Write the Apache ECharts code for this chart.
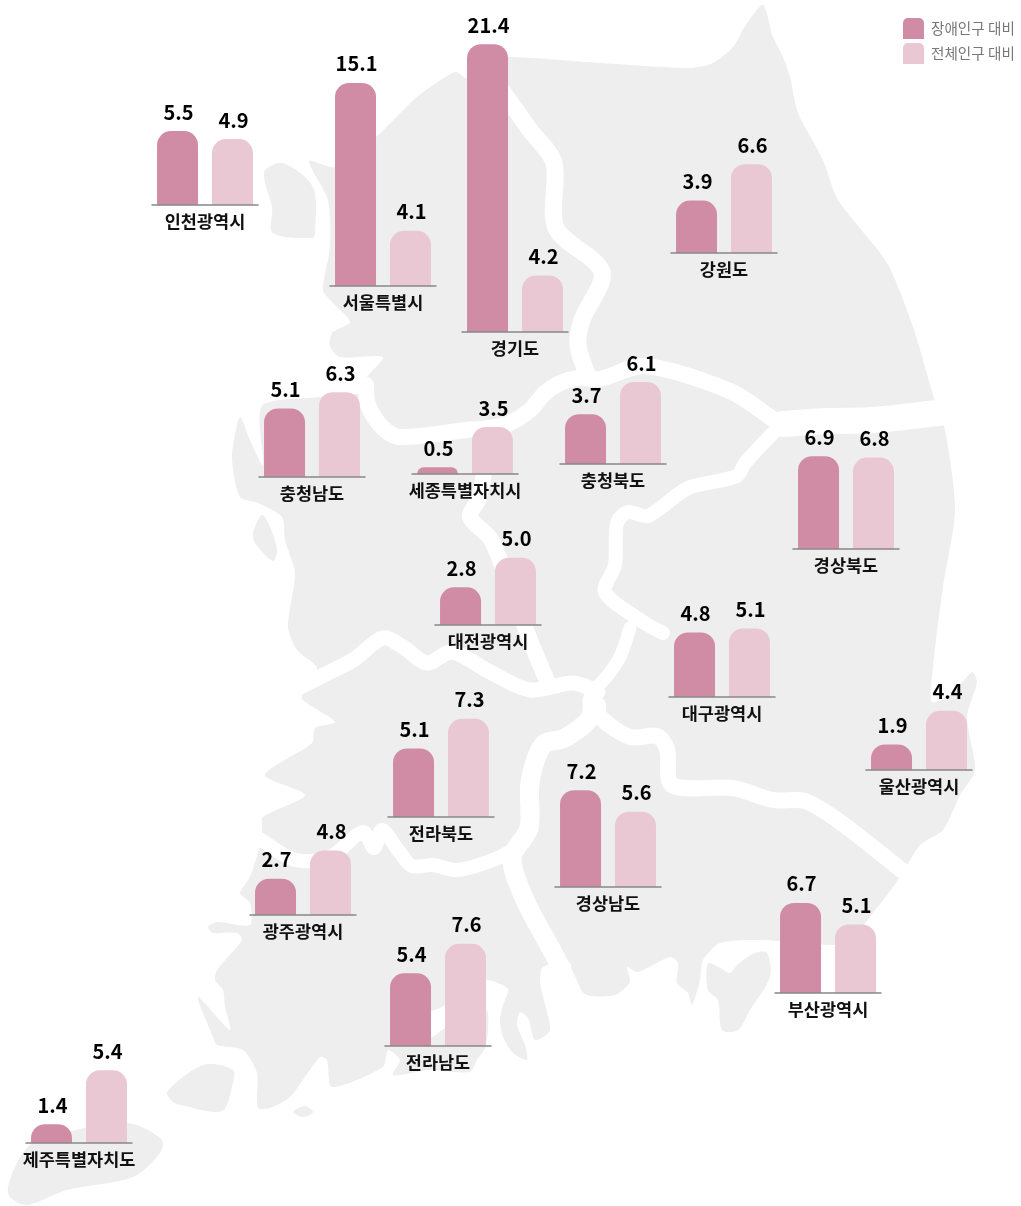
<!DOCTYPE html>
<html><head><meta charset="utf-8">
<style>html,body{margin:0;padding:0;background:#fff}#c{width:1021px;height:1206px}</style>
<script src="https://cdn.jsdelivr.net/npm/echarts@6/dist/echarts.min.js"></script>
</head><body><div id="c"></div>
<script>
// ---------- data ----------
const regions = ['인천광역시','서울특별시','경기도','강원도','충청남도','세종특별자치시','충청북도','경상북도','대전광역시','대구광역시','울산광역시','전라북도','경상남도','광주광역시','전라남도','부산광역시','제주특별자치도'];
const disabledShare = [5.5,15.1,21.4,3.9,5.1,0.5,3.7,6.9,2.8,4.8,1.9,5.1,7.2,2.7,5.4,6.7,1.4];
const totalShare    = [4.9,4.1,4.2,6.6,6.3,3.5,6.1,6.8,5.0,5.1,4.4,7.3,5.6,4.8,7.6,5.1,5.4];
const seriesNames = ['장애인구 대비','전체인구 대비'];

// ---------- layout: left edge and baseline of each small chart ----------
const anchorLeft = [152,330,462,671,259,412,560,793,435,669,866,388,555,250,385,775,26];
const anchorBase = [205,286,332,253,477,474,464,549,625,697,770,817,887,915,1046,993,1143];
const GRID_W = 106, PX_PER_UNIT = 13.45;
const C1 = '#D08CA4', C2 = '#E9C8D4', LAND = '#EEEEEE';

// ---------- decorative background map ----------
const mainland = [[455,72],[467,78],[490,62],[508,57],[600,63],[690,68],[713,63],[733,47],[747,23],[763,5],[773,37],[783,57],[790,77],[798,113],[823,160],[838,200],[887,263],[913,327],[934,398],[945,430],[955,510],[943,587],[933,667],[932,702],[953,693],[972,672],[977,682],[967,717],[975,770],[960,795],[943,830],[920,845],[898,880],[873,913],[850,940],[833,945],[760,940],[720,943],[703,960],[700,980],[692,1005],[688,993],[677,983],[678,963],[670,957],[638,972],[627,967],[630,982],[615,995],[587,995],[572,980],[570,963],[543,967],[540,983],[550,1030],[535,1040],[528,1018],[520,1012],[517,1025],[525,1045],[527,1060],[513,1053],[503,1037],[500,1020],[503,1005],[508,989],[486,980],[470,990],[440,1008],[431,1012],[431,1037],[445,1028],[486,1010],[486,1046],[477,1060],[470,1072],[430,1070],[393,1075],[400,1060],[388,1050],[383,1067],[332,1087],[327,1060],[320,1057],[290,1097],[270,1108],[258,1108],[257,1073],[243,1050],[217,1045],[213,1037],[198,997],[230,1030],[225,1007],[223,990],[215,980],[217,970],[242,940],[237,933],[213,933],[208,927],[217,922],[250,925],[250,903],[240,893],[250,877],[260,845],[262,830],[263,817],[305,795],[265,775],[312,743],[315,728],[335,722],[303,700],[302,690],[317,668],[297,650],[288,627],[295,573],[285,540],[282,517],[258,503],[240,497],[232,457],[240,417],[250,440],[263,465],[262,406],[320,397],[360,393],[367,377],[383,357],[340,357],[330,347],[332,333],[350,322],[333,303],[323,290],[330,247],[328,200],[309,161],[335,167],[376,137],[417,97]];
const islands = [
  [[265,170],[283,163],[313,187],[315,233],[312,238],[273,233],[272,207],[265,182]],
  [[262,515],[253,533],[255,543],[273,561],[277,550],[270,527]],
  [[708,963],[720,968],[730,973],[737,965],[755,953],[767,953],[770,977],[750,1010],[738,1030],[722,1030],[718,1000],[708,990]],
  [[167,1092],[203,1065],[233,1070],[232,1087],[222,1111],[180,1105],[173,1102]],
  [[293,1112],[305,1106],[313,1112],[303,1117]],
  [[8,1187],[17,1163],[33,1143],[100,1125],[133,1124],[162,1140],[160,1153],[133,1177],[67,1190],[27,1205],[10,1197]]
];
const rivers = [
  {w:17,p:[[500,88],[530,130],[554,163],[556,228],[602,272],[582,320],[578,345],[588,376]]},
  {w:16,p:[[366,385],[368,405],[383,428],[400,437],[467,430],[490,428],[510,423],[530,410],[545,393],[560,383],[578,378],[600,379],[645,366],[730,391],[770,417],[785,428]]},
  {w:26,p:[[783,424],[827,421],[873,420],[945,412],[990,405]]},
  {w:14,p:[[778,428],[745,463],[737,476],[688,488],[648,516],[628,512],[617,523],[615,565],[605,592],[640,620],[663,633]]},
  {w:13,p:[[630,628],[620,657],[608,675],[596,688]]},
  {w:15,p:[[285,695],[320,677],[353,660],[383,638],[403,647],[427,663],[452,652],[490,672],[530,690],[573,683],[598,692]]},
  {w:16,p:[[490,430],[484,474],[478,500],[470,517],[490,538],[500,560],[515,600],[532,645],[548,683]]},
  {w:19,p:[[592,700],[590,718],[565,738],[543,745],[530,783],[529,828],[512,858],[525,900],[557,960],[575,1000]]},
  {w:14,p:[[245,830],[258,838],[295,860],[330,857],[363,832],[374,848],[382,830],[398,850],[412,866],[433,865],[458,870],[498,858],[520,845]]},
  {w:16,p:[[598,705],[600,717],[630,737],[657,736],[667,749],[672,785],[733,788],[773,800],[805,801],[840,822],[905,873],[930,895]]}
];

// ---------- option ----------
const chart = echarts.init(document.getElementById('c'), null, {renderer:'canvas'});
const grid=[], xAxis=[], yAxis=[], series=[];
const labelStyle = {show:true, position:'top', distance:7, offset:[1,-2], color:'#000', fontSize:20, fontWeight:700, fontFamily:'"Noto Sans CJK KR"', formatter:p=>p.value.toFixed(1)};
regions.forEach((name,i)=>{
  const top = Math.ceil(Math.max(disabledShare[i], totalShare[i]));
  grid.push({left:anchorLeft[i], width:GRID_W, top:anchorBase[i]-top*PX_PER_UNIT, height:top*PX_PER_UNIT, containLabel:false});
  xAxis.push({type:'category', gridIndex:i, data:[name], z:5,
    axisLine:{lineStyle:{color:'#888',width:1.5}}, axisTick:{show:false},
    axisLabel:{margin:8,interval:0,color:'#111',fontSize:17.5,fontWeight:700,fontFamily:'"Noto Sans CJK KR"'}});
  yAxis.push({type:'value', gridIndex:i, min:0, max:top, show:false});
  series.push({name:seriesNames[0], type:'bar', xAxisIndex:i, yAxisIndex:i, data:[disabledShare[i]], barWidth:41, barGap:'34%', itemStyle:{color:C1,borderRadius:[14,14,0,0]}, label:labelStyle, animation:false});
  series.push({name:seriesNames[1], type:'bar', xAxisIndex:i, yAxisIndex:i, data:[totalShare[i]], barWidth:41, barGap:'34%', itemStyle:{color:C2,borderRadius:[14,14,0,0]}, label:labelStyle, animation:false});
});
const elements = [];
elements.push({type:'polygon', z:0, silent:true, shape:{points:mainland, smooth:0.25}, style:{fill:LAND}});
islands.forEach(p=>elements.push({type:'polygon', z:0, silent:true, shape:{points:p, smooth:0.3}, style:{fill:LAND}}));
rivers.forEach(r=>elements.push({type:'polyline', z:1, silent:true, shape:{points:r.p, smooth:0.3}, style:{stroke:'#fff', fill:null, lineWidth:r.w, lineCap:'round', lineJoin:'round'}}));
chart.setOption({
  animation:false, backgroundColor:'#fff',
  legend:{data:seriesNames, orient:'vertical', left:903, top:18, itemWidth:21, itemHeight:21, itemGap:4,
    icon:'path://M5,0H16A5,5 0 0 1 21,5V21H0V5A5,5 0 0 1 5,0Z', padding:0, selectedMode:false,
    textStyle:{color:'#777',fontSize:14.6,fontFamily:'"Noto Sans CJK KR"',padding:[0,0,0,2]}},
  graphic:{elements}, grid, xAxis, yAxis, series
});
</script></body></html>
